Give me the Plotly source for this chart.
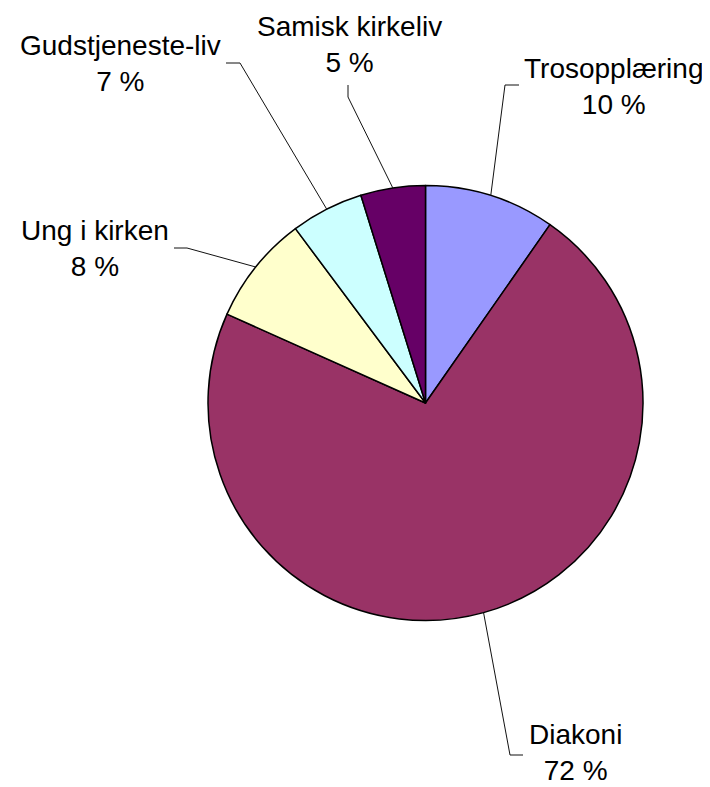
import math
import plotly.graph_objects as go

# ---- data ----
categories = ["Trosopplæring", "Diakoni", "Ung i kirken", "Gudstjeneste-liv", "Samisk kirkeliv"]
values = [9.7, 72.0, 8.1, 5.4, 4.8]
pct_labels = ["10 %", "72 %", "8 %", "7 %", "5 %"]
colors = ["#9999FF", "#993366", "#FFFFCC", "#CCFFFF", "#660066"]

# ---- layout constants (pixels in the 710x787 window) ----
PAGE_OFF = 8              # default body margin of the html page
W, H = 710 - PAGE_OFF, 787 - PAGE_OFF
CX, CY, R = 425.5, 403, 217.5

# label centre, leader elbow, leader end (window pixel coords)
label_layout = {
    "Trosopplæring":    dict(text=(613, 86),  elbow=(505, 85),  end=(519, 85)),
    "Diakoni":          dict(text=(575, 752), elbow=(510, 755), end=(523, 755)),
    "Ung i kirken":     dict(text=(95, 248),  elbow=(187, 248), end=(174, 248)),
    "Gudstjeneste-liv": dict(text=(120, 64),  elbow=(240, 63),  end=(226, 63)),
    "Samisk kirkeliv":  dict(text=(349, 44),  elbow=(348, 97),  end=(348, 85)),
}

def px(x):
    return (x - PAGE_OFF) / W

def py(y):
    return 1 - (y - PAGE_OFF) / H

fig = go.Figure(go.Pie(
    labels=categories,
    values=values,
    sort=False,
    direction="clockwise",
    rotation=0,
    textinfo="none",
    hoverinfo="label+percent",
    marker=dict(colors=colors, line=dict(color="black", width=1.5)),
    domain=dict(x=[px(CX - R), px(CX + R)], y=[py(CY + R), py(CY - R)]),
    showlegend=False,
))

shapes = []
annotations = []
total = sum(values)
cum = 0.0
for cat, v, pl in zip(categories, values, pct_labels):
    mid = (cum + v / 2) / total * 2 * math.pi
    cum += v
    ex = CX + R * math.sin(mid)
    ey = CY - R * math.cos(mid)
    L = label_layout[cat]
    (bx, by), (qx, qy) = L["elbow"], L["end"]
    shapes.append(dict(
        type="path", xref="paper", yref="paper",
        path=f"M {px(ex)},{py(ey)} L {px(bx)},{py(by)} L {px(qx)},{py(qy)}",
        line=dict(color="#111111", width=1),
    ))
    tx, ty = L["text"]
    annotations.append(dict(
        x=px(tx), y=py(ty), xref="paper", yref="paper",
        text=f"{cat}<br>{pl}", showarrow=False,
        xanchor="center", yanchor="middle", align="center",
        font=dict(family="Liberation Sans, Arial, sans-serif", size=28, color="black"),
    ))

fig.update_layout(
    width=W, height=H,
    margin=dict(l=0, r=0, t=0, b=0),
    paper_bgcolor="white", plot_bgcolor="white",
    shapes=shapes, annotations=annotations,
)

fig.write_html("out.html")
